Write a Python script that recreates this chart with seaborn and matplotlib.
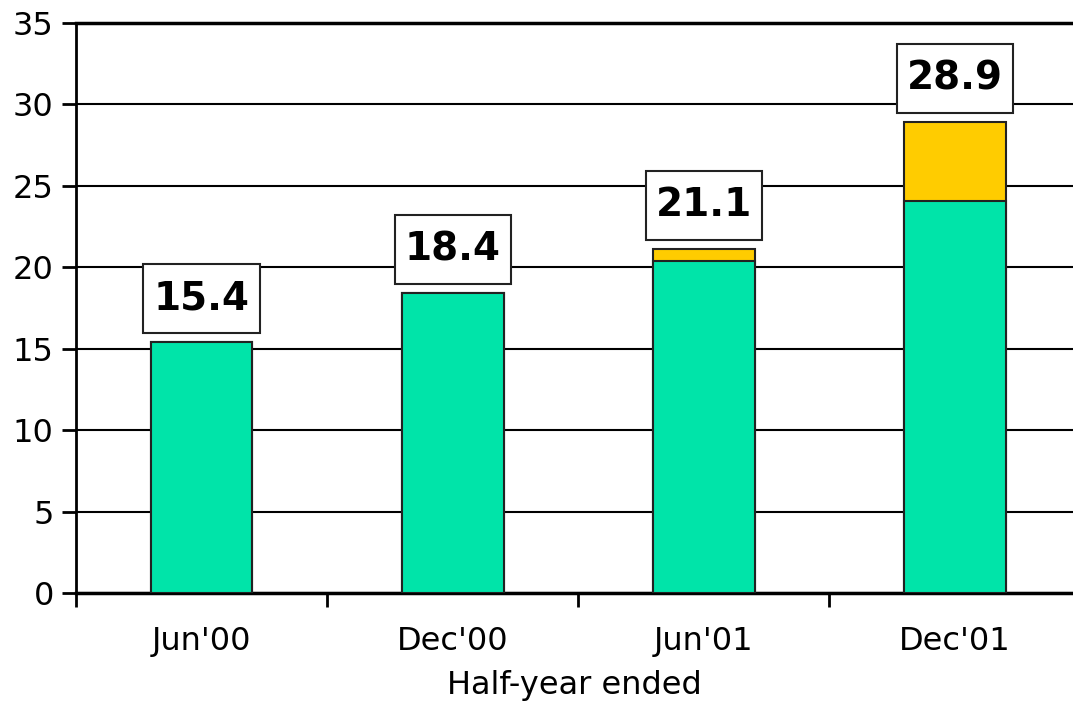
import matplotlib
matplotlib.use("Agg")
import matplotlib.pyplot as plt
from matplotlib.path import Path
import seaborn as sns
import numpy as np

categories = ["Jun'00", "Dec'00", "Jun'01", "Dec'01"]
green_vals = [15.4, 18.4, 20.4, 24.1]
yellow_vals = [0.0, 0.0, 0.7, 4.8]
total_labels = ["15.4", "18.4", "21.1", "28.9"]
y_ticks = [0, 5, 10, 15, 20, 25, 30, 35]

GREEN = "#00E4A9"
YELLOW = "#FFCC00"

sns.set_style("ticks")
plt.rcParams['font.family'] = ['DejaVu Sans']
plt.rcParams['text.color'] = 'black'
plt.rcParams['xtick.color'] = 'black'
plt.rcParams['ytick.color'] = 'black'
plt.rcParams['axes.labelcolor'] = 'black'

totals = [g + y for g, y in zip(green_vals, yellow_vals)]


def label_box(x0, y0, width, height, mutation_size):
    px = 0.26 * mutation_size
    py = 0.40 * mutation_size
    x0, y0 = x0 - px, y0 - py
    x1, y1 = x0 + width + 2 * px, y0 + height + 2 * py
    return Path([(x0, y0), (x1, y0), (x1, y1), (x0, y1), (x0, y0)],
                closed=True)


fig = plt.figure(figsize=(10.73, 7.08), dpi=100)
ax = fig.add_axes([76/1073, 1 - 593/708, 1 - 76/1073, (593 - 23)/708])

sns.barplot(x=categories, y=totals, color=YELLOW, saturation=1, width=0.405,
            edgecolor="#222222", linewidth=1.5, ax=ax, zorder=3)
sns.barplot(x=categories, y=green_vals, color=GREEN, saturation=1, width=0.405,
            edgecolor="#222222", linewidth=1.5, ax=ax, zorder=4)

ax.set_ylim(0, 35)
ax.set_xlim(-0.5, 3.47)
ax.set_yticks(y_ticks)
ax.set_yticklabels([str(t) for t in y_ticks], fontsize=23)
ax.yaxis.grid(True, color="black", linewidth=1.5, zorder=0)
ax.set_axisbelow(True)

ax.set_xticks(range(len(categories)))
ax.set_xticklabels(categories, fontsize=23)
ax.tick_params(axis='x', which='major', bottom=True, length=0, pad=24)
ax.set_xticks([-0.5, 0.5, 1.5, 2.5], minor=True)
ax.tick_params(axis='x', which='minor', bottom=True, length=10, width=2,
               color="black", direction="out")
ax.tick_params(axis='y', which='major', left=True, length=10, width=2,
               color="black", direction="out", pad=6)

ax.set_xlabel("Half-year ended", fontsize=23, labelpad=9, color="black")
ax.set_ylabel("")

for s in ["left", "bottom", "top"]:
    ax.spines[s].set_visible(True)
    ax.spines[s].set_color("black")
ax.spines["left"].set_linewidth(2)
ax.spines["bottom"].set_linewidth(2.5)
ax.spines["top"].set_linewidth(2.5)
ax.spines["right"].set_visible(False)

for i, (t, lab) in enumerate(zip(totals, total_labels)):
    ax.text(i, t + 2.7, lab, ha="center", va="center", fontsize=28,
            fontweight="bold", color="black", zorder=6,
            bbox=dict(boxstyle=label_box, facecolor="white",
                      edgecolor="#222222", linewidth=1.5))

fig.savefig("out.png", dpi=100)
